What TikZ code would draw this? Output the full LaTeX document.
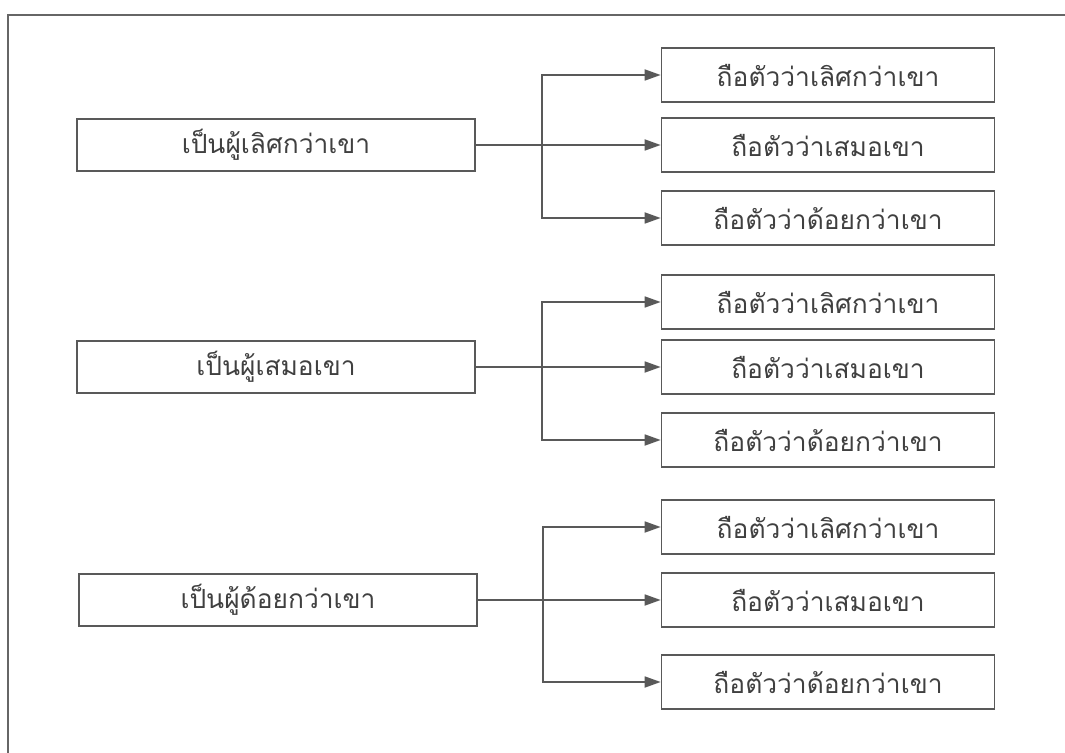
\documentclass[tikz,border=0pt]{standalone}
\usepackage{fontspec}
\newfontfamily\thaifont[Script=Thai]{Loma}
\usepackage{tikz}
\usetikzlibrary{arrows.meta}

\begin{document}
\begin{tikzpicture}[x=0.02cm,y=-0.02cm,
    every rectangle node/.style={draw=black!65,line width=1pt,text=black!75,
        font=\thaifont\fontsize{15}{18}\selectfont},
    selfbox/.style={minimum width=7.96cm,minimum height=1.04cm},
    viewbox/.style={minimum width=6.66cm,minimum height=1.08cm},
    link/.style={draw=black!65,line width=1pt,-{Triangle[length=3.2mm,width=2.2mm]}}]
            \useasboundingbox (0,0) rectangle (1065,753);
            \draw[black!60,line width=1.2pt] (8,753) -- (8,15) -- (1065,15);
            % first group
            \draw (276, 145) node[rectangle,selfbox](1){เป็นผู้เลิศกว่าเขา};
            \draw (828, 75) node[rectangle,viewbox](11){ถือตัวว่าเลิศกว่าเขา};
            \draw (828, 145) node[rectangle,viewbox](12){ถือตัวว่าเสมอเขา};
            \draw (828, 218) node[rectangle,viewbox](13){ถือตัวว่าด้อยกว่าเขา};
            \coordinate (b1) at (542, 145);
            \draw[link] (1) -- (12);
            \draw[link] (b1) |- (11);
            \draw[link] (b1) |- (13);
            % second group
            \draw (276, 367) node[rectangle,selfbox](2){เป็นผู้เสมอเขา};
            \draw (828, 302) node[rectangle,viewbox](21){ถือตัวว่าเลิศกว่าเขา};
            \draw (828, 367) node[rectangle,viewbox](22){ถือตัวว่าเสมอเขา};
            \draw (828, 440) node[rectangle,viewbox](23){ถือตัวว่าด้อยกว่าเขา};
            \coordinate (b2) at (542, 367);
            \draw[link] (2) -- (22);
            \draw[link] (b2) |- (21);
            \draw[link] (b2) |- (23);
            % third group
            \draw (278, 600) node[rectangle,selfbox](3){เป็นผู้ด้อยกว่าเขา};
            \draw (828, 527) node[rectangle,viewbox](31){ถือตัวว่าเลิศกว่าเขา};
            \draw (828, 600) node[rectangle,viewbox](32){ถือตัวว่าเสมอเขา};
            \draw (828, 682) node[rectangle,viewbox](33){ถือตัวว่าด้อยกว่าเขา};
            \coordinate (b3) at (543, 600);
            \draw[link] (3) -- (32);
            \draw[link] (b3) |- (31);
            \draw[link] (b3) |- (33);
        \end{tikzpicture}
\end{document}
